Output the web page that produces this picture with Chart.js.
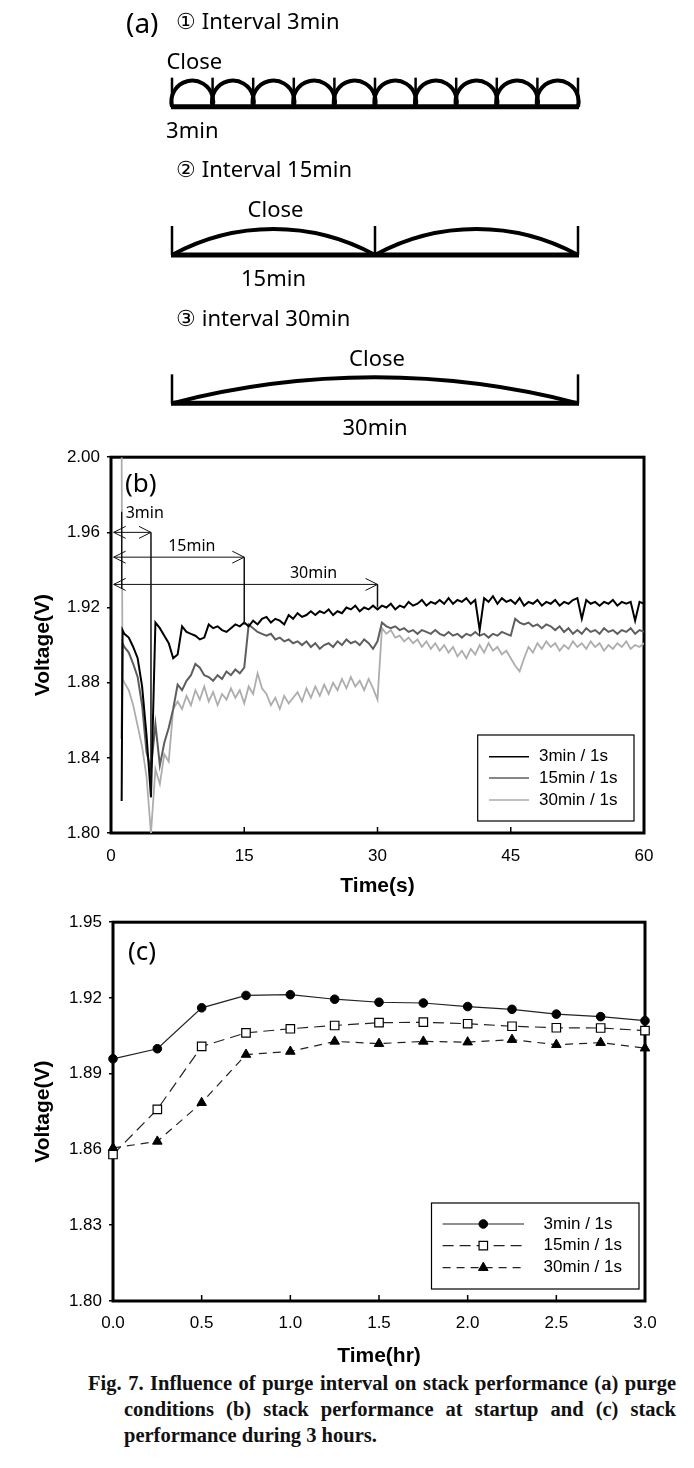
<!DOCTYPE html>
<html>
<head>
<meta charset="utf-8">
<script src="https://cdn.jsdelivr.net/npm/chart.js"></script>
<style>
  body { margin:0; background:#fff; width:694px; height:1468px; position:relative; overflow:hidden; }
  canvas { position:absolute; left:0; }
  #panelA { top:0; }
  #panelB { top:440px; }
  #panelC { top:905px; }
  #caption { position:absolute; left:88px; top:1370px; width:588px; font-family:"Liberation Serif","Times New Roman",serif; font-weight:bold; font-size:20.5px; line-height:26px; color:#111; }
  #caption div { white-space:nowrap; }
  #caption .j { text-align:justify; text-align-last:justify; white-space:normal; }
  #caption .in { margin-left:36px; }
</style>
</head>
<body>
<canvas id="panelA" width="694" height="440"></canvas>
<canvas id="panelB" width="694" height="465"></canvas>
<canvas id="panelC" width="694" height="465"></canvas>
<div id="caption">
  <div class="j">Fig. 7. Influence of purge interval on stack performance (a) purge</div>
  <div class="j in">conditions (b) stack performance at startup and (c) stack</div>
  <div class="in">performance during 3 hours.</div>
</div>
<script>
// (a) purge conditions
const purgeMinutes = [3, 15, 30];
const purgeTitles = ['① Interval 3min', '② Interval 15min', '③ interval 30min'];
const purgeSpans = ['3min', '15min', '30min'];
const cycleMinutes = 30;

// (b) startup, voltage every 0.5 s
const timeS = [1.2,1.3,1.5,2,2.5,3,3.5,4,4.5,5,
  5.5,6,6.5,7,7.5,8,8.5,9,9.5,10,
  10.5,11,11.5,12,12.5,13,13.5,14,14.5,15,
  15.5,16,16.5,17,17.5,18,18.5,19,19.5,20,
  20.5,21,21.5,22,22.5,23,23.5,24,24.5,25,
  25.5,26,26.5,27,27.5,28,28.5,29,29.5,30,
  30.5,31,31.5,32,32.5,33,33.5,34,34.5,35,
  35.5,36,36.5,37,37.5,38,38.5,39,39.5,40,
  40.5,41,41.5,42,42.5,43,43.5,44,44.5,45,
  45.5,46,46.5,47,47.5,48,48.5,49,49.5,50,
  50.5,51,51.5,52,52.5,53,53.5,54,54.5,55,
  55.5,56,56.5,57,57.5,58,58.5,59,59.5,60];
const volt3 = [1.817,1.908,1.906,1.904,1.899,1.893,1.878,1.852,1.819,1.912,
  1.909,1.905,1.901,1.893,1.895,1.910,1.907,1.906,1.905,1.903,
  1.904,1.911,1.909,1.910,1.908,1.907,1.909,1.911,1.910,1.912,
  1.910,1.913,1.911,1.914,1.915,1.912,1.914,1.913,1.911,1.916,
  1.914,1.917,1.915,1.916,1.918,1.916,1.918,1.917,1.919,1.916,
  1.918,1.917,1.920,1.919,1.921,1.918,1.920,1.919,1.921,1.919,
  1.921,1.920,1.922,1.919,1.921,1.920,1.923,1.921,1.922,1.924,
  1.921,1.923,1.922,1.924,1.922,1.925,1.922,1.924,1.923,1.925,
  1.922,1.924,1.908,1.925,1.923,1.926,1.922,1.925,1.923,1.924,
  1.922,1.925,1.921,1.923,1.922,1.924,1.921,1.923,1.922,1.924,
  1.921,1.923,1.922,1.924,1.925,1.914,1.924,1.922,1.923,1.921,
  1.923,1.922,1.924,1.921,1.923,1.922,1.923,1.913,1.923,1.922];
const volt15 = [1.850,1.901,1.899,1.896,1.890,1.883,1.868,1.843,1.834,1.858,
  1.836,1.848,1.856,1.866,1.879,1.876,1.881,1.884,1.890,1.888,
  1.884,1.883,1.881,1.884,1.882,1.886,1.884,1.887,1.885,1.888,
  1.911,1.909,1.907,1.906,1.905,1.906,1.903,1.904,1.902,1.903,
  1.901,1.902,1.900,1.902,1.899,1.901,1.898,1.900,1.901,1.899,
  1.902,1.900,1.903,1.901,1.902,1.900,1.903,1.901,1.898,1.902,
  1.912,1.910,1.909,1.910,1.908,1.909,1.907,1.908,1.906,1.908,
  1.907,1.906,1.908,1.906,1.905,1.907,1.905,1.906,1.904,1.906,
  1.905,1.907,1.905,1.906,1.904,1.906,1.905,1.907,1.906,1.905,
  1.914,1.912,1.911,1.912,1.910,1.911,1.909,1.911,1.910,1.908,
  1.910,1.907,1.909,1.906,1.908,1.906,1.909,1.907,1.908,1.906,
  1.909,1.907,1.908,1.906,1.908,1.907,1.909,1.906,1.908,1.907];
const volt30 = [2.000,1.882,1.880,1.876,1.868,1.857,1.846,1.830,1.800,1.834,
  1.826,1.842,1.838,1.866,1.870,1.866,1.873,1.868,1.876,1.871,
  1.878,1.870,1.875,1.868,1.874,1.871,1.877,1.872,1.876,1.869,
  1.878,1.874,1.885,1.877,1.874,1.868,1.872,1.866,1.873,1.869,
  1.872,1.875,1.870,1.877,1.872,1.878,1.873,1.879,1.874,1.880,
  1.876,1.882,1.877,1.883,1.878,1.881,1.876,1.882,1.877,1.871,
  1.909,1.906,1.908,1.904,1.905,1.902,1.904,1.901,1.903,1.899,
  1.902,1.898,1.901,1.897,1.900,1.896,1.899,1.894,1.897,1.893,
  1.898,1.895,1.900,1.896,1.901,1.897,1.899,1.895,1.897,1.893,
  1.889,1.886,1.893,1.899,1.896,1.901,1.898,1.902,1.899,1.901,
  1.897,1.900,1.898,1.902,1.899,1.901,1.898,1.902,1.899,1.901,
  1.897,1.900,1.898,1.901,1.899,1.902,1.898,1.900,1.899,1.901];
const xTicksB = [0, 15, 30, 45, 60];
const yTicksB = [1.80, 1.84, 1.88, 1.92, 1.96, 2.00];
// purge interval arrows in (b)
const arrowLabelsB = ['3min', '15min', '30min'];
const arrowFromB = 0.3;
const arrowToB = [4.5, 15, 30];
const arrowLevelB = [1.960, 1.9468, 1.9323];
const arrowDropB = [1.819, 1.911, 1.920];
const labelAtB = [3.8, 9.1, 22.8];
const labelLevelB = [1.970, 1.9526, 1.938];
const startMarkB = [1.2, 1.971, 1.930];

// (c) 3 hours
const hoursC = [0, 0.25, 0.5, 0.75, 1.0, 1.25, 1.5, 1.75, 2.0, 2.25, 2.5, 2.75, 3.0];
const v3C = [1.8959,1.8999,1.9161,1.9210,1.9213,1.9195,1.9183,1.9180,1.9166,1.9155,1.9136,1.9126,1.9110];
const v15C = [1.8580,1.8759,1.9008,1.9062,1.9078,1.9091,1.9102,1.9104,1.9098,1.9088,1.9082,1.9081,1.9071];
const v30C = [1.8606,1.8632,1.8785,1.8976,1.8988,1.9028,1.9019,1.9028,1.9025,1.9035,1.9015,1.9023,1.9001];
const xTicksC = [0, 0.5, 1.0, 1.5, 2.0, 2.5, 3.0];
const yTicksC = [1.80, 1.83, 1.86, 1.89, 1.92, 1.95];

const seriesNames = ['3min / 1s', '15min / 1s', '30min / 1s'];

Chart.defaults.font.family = '"Liberation Sans", Arial, sans-serif';
Chart.defaults.color = '#000';

// draws the arcs, ticks and words of panel (a)
const schematic = {
  id: 'schematic',
  afterDraw(chart) {
    const {ctx, scales: {x, y}} = chart;
    ctx.save();
    ctx.fillStyle = '#000';
    ctx.strokeStyle = '#000';
    ctx.textBaseline = 'middle';
    ctx.font = '28px "Noto Sans"';
    ctx.fillText('(a)', 126, 25);
    const x0 = x.getPixelForValue(0), x1 = x.getPixelForValue(cycleMinutes);
    purgeMinutes.forEach((m, r) => {
      const base = y.getPixelForValue(r);
      ctx.lineWidth = 5;
      ctx.beginPath(); ctx.moveTo(x0 - 1, base); ctx.lineTo(x1 + 1, base); ctx.stroke();
      ctx.lineWidth = 2.5;
      for (let t = 0; t <= cycleMinutes; t += m) {
        const px = x.getPixelForValue(t);
        ctx.beginPath(); ctx.moveTo(px, base); ctx.lineTo(px, base - 29); ctx.stroke();
      }
      ctx.lineWidth = 4;
      const h = 26;
      for (let t = 0; t < cycleMinutes; t += m) {
        const a = x.getPixelForValue(t), b = x.getPixelForValue(t + m);
        const c = b - a;
        const R = (c * c / 4 + h * h) / (2 * h);
        const cx = (a + b) / 2, cy = base - h + R;
        const s = Math.atan2(base - cy, a - cx), e = Math.atan2(base - cy, b - cx);
        ctx.beginPath(); ctx.arc(cx, cy, R, s, e, false); ctx.stroke();
      }
      const mid = (x0 + x.getPixelForValue(m)) / 2;
      ctx.font = '22px "Noto Sans"';
      ctx.textAlign = 'left';
      ctx.fillText(purgeTitles[r], 176, base - 84);
      ctx.textAlign = 'center';
      ctx.fillText('Close', mid + 2, base - 44);
      ctx.fillText(purgeSpans[r], mid, base + 25);
    });
    ctx.restore();
  }
};

// thick box round the plot, inward x ticks, panel tag
const frame = {
  id: 'frame',
  beforeDatasetsDraw(chart, args, o) {
    const {ctx, chartArea: a, scales: {x}} = chart;
    ctx.save();
    ctx.strokeStyle = '#000';
    ctx.lineWidth = 1.5;
    x.ticks.forEach(t => {
      const px = x.getPixelForValue(t.value);
      if (px <= a.left + 2 || px >= a.right - 2) return;
      ctx.beginPath(); ctx.moveTo(px, a.bottom); ctx.lineTo(px, a.bottom - 6); ctx.stroke();
    });
    ctx.lineWidth = 3;
    ctx.strokeRect(a.left, a.top, a.right - a.left, a.bottom - a.top);
    ctx.fillStyle = '#000';
    ctx.font = '26px "Noto Sans"';
    ctx.textBaseline = 'middle';
    ctx.fillText(o.tag, a.left + o.dx, a.top + o.dy);
    ctx.restore();
  }
};

// legend box inside the plot
const boxLegend = {
  id: 'boxLegend',
  afterDraw(chart, args, o) {
    const ctx = chart.ctx;
    ctx.save();
    ctx.fillStyle = '#fff';
    ctx.fillRect(o.box[0], o.box[1], o.box[2], o.box[3]);
    ctx.strokeStyle = '#000';
    ctx.lineWidth = 1.2;
    ctx.strokeRect(o.box[0], o.box[1], o.box[2], o.box[3]);
    ctx.font = '17px "Liberation Sans"';
    ctx.textBaseline = 'middle';
    chart.data.datasets.forEach((ds, i) => {
      const yy = o.rows[i];
      ctx.strokeStyle = ds.borderColor;
      ctx.lineWidth = Math.min(ds.borderWidth, 1.5);
      ctx.setLineDash(ds.borderDash || []);
      ctx.beginPath(); ctx.moveTo(o.line[0], yy); ctx.lineTo(o.line[1], yy); ctx.stroke();
      ctx.setLineDash([]);
      if (ds.pointRadius) {
        ctx.fillStyle = ds.pointBackgroundColor;
        ctx.strokeStyle = ds.pointBorderColor;
        ctx.lineWidth = ds.pointBorderWidth;
        Chart.helpers.drawPoint(ctx, {pointStyle: ds.pointStyle, radius: ds.pointRadius, borderWidth: ds.pointBorderWidth, rotation: 0}, (o.line[0] + o.line[1]) / 2, yy);
      }
      ctx.fillStyle = '#000';
      ctx.fillText(ds.label, o.textX, yy);
    });
    ctx.restore();
  }
};

// purge interval arrows of (b)
const purgeArrows = {
  id: 'purgeArrows',
  afterDatasetsDraw(chart) {
    const {ctx, scales: {x, y}} = chart;
    ctx.save();
    ctx.strokeStyle = '#111';
    ctx.fillStyle = '#000';
    ctx.font = '16px "Noto Sans"';
    ctx.textAlign = 'center';
    ctx.textBaseline = 'middle';
    ctx.lineWidth = 1.3;
    const sx = x.getPixelForValue(startMarkB[0]);
    ctx.beginPath(); ctx.moveTo(sx, y.getPixelForValue(startMarkB[1])); ctx.lineTo(sx, y.getPixelForValue(startMarkB[2])); ctx.stroke();
    const xs = x.getPixelForValue(arrowFromB);
    arrowLabelsB.forEach((lab, i) => {
      const xe = x.getPixelForValue(arrowToB[i]);
      const yy = y.getPixelForValue(arrowLevelB[i]);
      ctx.lineWidth = 1;
      ctx.beginPath();
      ctx.moveTo(xs, yy); ctx.lineTo(xe, yy);
      ctx.moveTo(xs + 12, yy - 6); ctx.lineTo(xs, yy); ctx.lineTo(xs + 12, yy + 6);
      ctx.moveTo(xe - 12, yy - 6); ctx.lineTo(xe, yy); ctx.lineTo(xe - 12, yy + 6);
      ctx.stroke();
      ctx.lineWidth = 1.5;
      ctx.beginPath(); ctx.moveTo(xe, yy); ctx.lineTo(xe, y.getPixelForValue(arrowDropB[i])); ctx.stroke();
      ctx.fillText(lab, x.getPixelForValue(labelAtB[i]), y.getPixelForValue(labelLevelB[i]));
    });
    ctx.restore();
  }
};

const tickFont = {size: 17};
const titleFont = {size: 21, weight: 'bold'};

new Chart(document.getElementById('panelA'), {
  type: 'scatter',
  data: {datasets: [{data: []}]},
  options: {
    responsive: false, animation: false,
    layout: {padding: {left: 172, right: 116, top: 77, bottom: 7}},
    plugins: {legend: {display: false}, tooltip: {enabled: false}},
    scales: {
      x: {type: 'linear', min: 0, max: cycleMinutes, display: false},
      y: {type: 'linear', min: -0.2, max: 2.2, reverse: true, display: false}
    }
  },
  plugins: [schematic]
});

new Chart(document.getElementById('panelB'), {
  type: 'line',
  data: {
    datasets: [
      {label: seriesNames[0], data: timeS.map((t, i) => ({x: t, y: volt3[i]})), borderColor: '#000', borderWidth: 2, pointRadius: 0},
      {label: seriesNames[1], data: timeS.map((t, i) => ({x: t, y: volt15[i]})), borderColor: '#5e5e5e', borderWidth: 2, pointRadius: 0},
      {label: seriesNames[2], data: timeS.map((t, i) => ({x: t, y: volt30[i]})), borderColor: '#adadad', borderWidth: 1.8, pointRadius: 0}
    ]
  },
  options: {
    responsive: false, animation: false,
    layout: {padding: {left: 0, right: 50, top: 14, bottom: 0}},
    plugins: {
      legend: {display: false}, tooltip: {enabled: false},
      frame: {tag: '(b)', dx: 14, dy: 27},
      boxLegend: {box: [477.7, 295, 156.3, 86], rows: [316.7, 338, 360], line: [489, 529], textX: 539}
    },
    scales: {
      x: {
        type: 'linear', min: 0, max: 60,
        afterBuildTicks: s => { s.ticks = xTicksB.map(v => ({value: v})); },
        afterFit: s => { s.height = 72; },
        grid: {display: false}, border: {display: false},
        ticks: {font: tickFont, padding: 5, maxRotation: 0, autoSkip: false},
        title: {display: true, text: 'Time(s)', font: titleFont, padding: {top: 0, bottom: 5.7}}
      },
      y: {
        type: 'linear', min: 1.80, max: 2.00,
        afterBuildTicks: s => { s.ticks = yTicksB.map(v => ({value: v})); },
        afterFit: s => { s.width = 111; },
        grid: {drawOnChartArea: false, drawTicks: true, tickLength: 4, color: '#000', lineWidth: 1.5},
        border: {display: false},
        ticks: {font: tickFont, padding: 7, callback: v => v.toFixed(2)},
        title: {display: true, text: 'Voltage(V)', font: titleFont, padding: {top: 30.7, bottom: 0}}
      }
    }
  },
  plugins: [frame, purgeArrows, boxLegend]
});

new Chart(document.getElementById('panelC'), {
  type: 'line',
  data: {
    datasets: [
      {label: seriesNames[0], data: hoursC.map((t, i) => ({x: t, y: v3C[i]})), borderColor: '#222', borderWidth: 1.2,
       pointStyle: 'circle', pointRadius: 4.3, pointBackgroundColor: '#000', pointBorderColor: '#000', pointBorderWidth: 1, clip: false},
      {label: seriesNames[1], data: hoursC.map((t, i) => ({x: t, y: v15C[i]})), borderColor: '#222', borderWidth: 1.2, borderDash: [11, 6],
       pointStyle: 'rect', pointRadius: 6, pointBackgroundColor: '#fff', pointBorderColor: '#000', pointBorderWidth: 1.2, clip: false},
      {label: seriesNames[2], data: hoursC.map((t, i) => ({x: t, y: v30C[i]})), borderColor: '#222', borderWidth: 1.2, borderDash: [8, 6],
       pointStyle: 'triangle', pointRadius: 5.5, pointBackgroundColor: '#000', pointBorderColor: '#000', pointBorderWidth: 1, clip: false}
    ]
  },
  options: {
    responsive: false, animation: false,
    layout: {padding: {left: 0, right: 49, top: 16.7, bottom: 0}},
    plugins: {
      legend: {display: false}, tooltip: {enabled: false},
      frame: {tag: '(c)', dx: 15, dy: 30},
      boxLegend: {box: [431.5, 298, 207.5, 86], rows: [319, 340.7, 362.7], line: [442.6, 524], textX: 543.6}
    },
    scales: {
      x: {
        type: 'linear', min: 0, max: 3,
        afterBuildTicks: s => { s.ticks = xTicksC.map(v => ({value: v})); },
        afterFit: s => { s.height = 69; },
        grid: {display: false}, border: {display: false},
        ticks: {font: tickFont, padding: 4, maxRotation: 0, autoSkip: false, callback: v => v.toFixed(1)},
        title: {display: true, text: 'Time(hr)', font: titleFont, padding: {top: 0, bottom: 1.4}}
      },
      y: {
        type: 'linear', min: 1.80, max: 1.95,
        afterBuildTicks: s => { s.ticks = yTicksC.map(v => ({value: v})); },
        afterFit: s => { s.width = 113; },
        grid: {drawOnChartArea: false, drawTicks: true, tickLength: 4, color: '#000', lineWidth: 1.5},
        border: {display: false},
        ticks: {font: tickFont, padding: 7, callback: v => v.toFixed(2)},
        title: {display: true, text: 'Voltage(V)', font: titleFont, padding: {top: 30.7, bottom: 0}}
      }
    }
  },
  plugins: [frame, boxLegend]
});
</script>
</body>
</html>
